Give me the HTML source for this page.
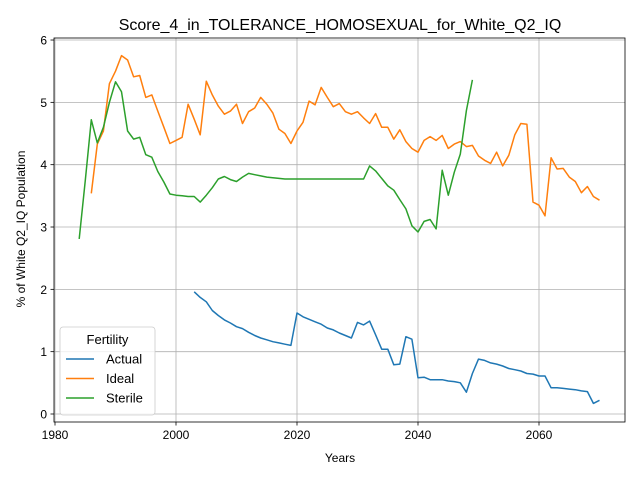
<!DOCTYPE html>
<html><head><meta charset="utf-8"><style>
body{margin:0;background:#fff;font-family:"Liberation Sans","DejaVu Sans",sans-serif}
</style></head><body>
<svg id="chart" width="640" height="480" xmlns="http://www.w3.org/2000/svg">
<rect width="640" height="480" fill="#fff"/>
<text x="340" y="30" text-anchor="middle" font-size="16">Score_4_in_TOLERANCE_HOMOSEXUAL_for_White_Q2_IQ</text>
<g id="grid"></g><g id="series"></g><g id="axes"></g>
<text x="340" y="462" text-anchor="middle" font-size="12">Years</text>
<text transform="translate(25,229) rotate(-90)" text-anchor="middle" font-size="12">% of White Q2_IQ Population</text>
<g id="legend"></g>
</svg>
<script>
const xTicks=[1980,2000,2020,2040,2060];
const yTicks=[0,1,2,3,4,5,6];
const actualStart=2003;
const actual=[1.96,1.87,1.8,1.66,1.58,1.51,1.46,1.4,1.37,1.31,1.26,1.22,1.19,1.16,1.14,1.12,1.1,1.62,1.56,1.52,1.48,1.44,1.38,1.35,1.3,1.26,1.22,1.47,1.43,1.49,1.27,1.04,1.04,0.79,0.8,1.24,1.2,0.58,0.59,0.55,0.55,0.55,0.53,0.52,0.5,0.35,0.65,0.88,0.86,0.82,0.8,0.77,0.73,0.71,0.69,0.65,0.64,0.61,0.61,0.42,0.42,0.41,0.4,0.39,0.37,0.36,0.17,0.22];
const idealStart=1986;
const ideal=[3.54,4.33,4.54,5.3,5.5,5.75,5.68,5.41,5.43,5.08,5.12,4.86,4.6,4.34,4.39,4.44,4.97,4.73,4.48,5.34,5.12,4.94,4.81,4.86,4.97,4.66,4.85,4.91,5.08,4.97,4.83,4.57,4.5,4.34,4.54,4.68,5.02,4.96,5.24,5.08,4.93,4.98,4.85,4.81,4.85,4.75,4.66,4.82,4.6,4.6,4.41,4.56,4.37,4.26,4.2,4.39,4.45,4.39,4.47,4.26,4.33,4.37,4.29,4.31,4.14,4.07,4.02,4.2,3.98,4.15,4.48,4.66,4.65,3.4,3.35,3.18,4.11,3.93,3.94,3.8,3.73,3.55,3.65,3.49,3.43];
const sterileStart=1984;
const sterile=[2.81,3.75,4.72,4.35,4.6,5.0,5.33,5.17,4.54,4.41,4.44,4.16,4.12,3.89,3.72,3.53,3.51,3.5,3.49,3.49,3.4,3.51,3.63,3.77,3.81,3.76,3.73,3.8,3.86,3.84,3.82,3.8,3.79,3.78,3.77,3.77,3.77,3.77,3.77,3.77,3.77,3.77,3.77,3.77,3.77,3.77,3.77,3.77,3.98,3.9,3.78,3.66,3.59,3.44,3.29,3.02,2.92,3.09,3.12,2.97,3.91,3.51,3.88,4.17,4.87,5.36];
const seriesNames=["Actual","Ideal","Sterile"];
const colors=["#1f77b4","#ff7f0e","#2ca02c"];
const L=54,R=625,T=38,B=422;
const X=v=>55+(v-1980)*6.05;
const Y=v=>414-v*62.33;
const NS="http://www.w3.org/2000/svg";
function mk(tag,attrs,parent){const e=document.createElementNS(NS,tag);for(const k in attrs)e.setAttribute(k,attrs[k]);parent.appendChild(e);return e;}
const grid=document.getElementById('grid'),axes=document.getElementById('axes'),ser=document.getElementById('series');
xTicks.forEach(t=>{
 const g=mk('line',{x1:X(t),x2:X(t),y1:T,y2:B,stroke:'#b0b0b0','stroke-width':0.8},grid);
 
 
 mk('line',{x1:X(t),x2:X(t),y1:B,y2:B+3.5,stroke:'#000','stroke-width':0.8},axes);
 const tx=mk('text',{x:X(t),y:B+17,'text-anchor':'middle','font-size':12},axes);tx.textContent=t;
 
 
});
yTicks.forEach(t=>{
 const g=mk('line',{x1:L,x2:R,y1:Y(t),y2:Y(t),stroke:'#b0b0b0','stroke-width':0.8},grid);
 
 
 mk('line',{x1:L-3.5,x2:L,y1:Y(t),y2:Y(t),stroke:'#000','stroke-width':0.8},axes);
 const tx=mk('text',{x:L-7,y:Y(t)+4.5,'text-anchor':'end','font-size':12},axes);tx.textContent=t;
 
 
});
const frame=mk('rect',{x:L,y:T,width:R-L,height:B-T,fill:'none',stroke:'#000','stroke-width':0.8},axes);


[[actual,actualStart],[ideal,idealStart],[sterile,sterileStart]].forEach(([d,s],i)=>{
 const p=mk('polyline',{points:d.map((v,j)=>X(s+j).toFixed(1)+','+Y(v).toFixed(1)).join(' '),fill:'none',stroke:colors[i],'stroke-width':1.5,'stroke-linejoin':'round'},ser);
 
 
});
const lg=document.getElementById('legend');
const box=mk('rect',{x:60,y:327,width:95,height:88,rx:3,fill:'#fff','fill-opacity':0.8,stroke:'#ccc','stroke-width':0.8},lg);


const lt=mk('text',{x:107.5,y:344,'text-anchor':'middle','font-size':13},lg);lt.textContent='Fertility';


seriesNames.forEach((n,i)=>{
 const y=359+i*19.5;
 mk('line',{x1:66,x2:94,y1:y,y2:y,stroke:colors[i],'stroke-width':1.5},lg);
 const t=mk('text',{x:106,y:y+4.5,'font-size':13},lg);t.textContent=n;
 
 
});
</script>
</body></html>
